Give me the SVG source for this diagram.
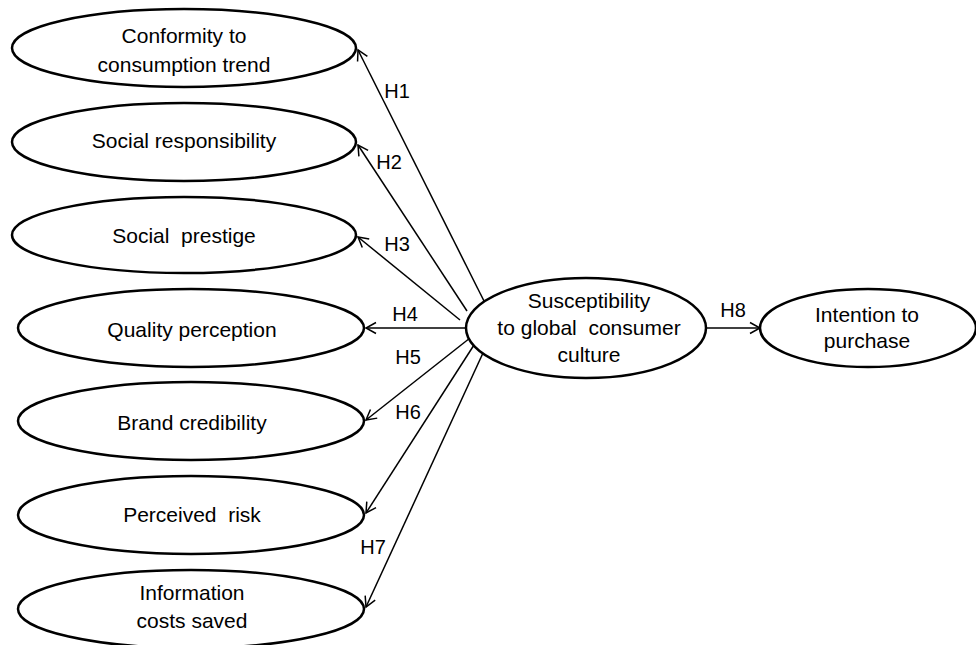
<svg xmlns="http://www.w3.org/2000/svg" width="976" height="645" viewBox="0 0 976 645">
<style>
.n ellipse{fill:#fff;stroke:#000;stroke-width:2.5}
.t{font-family:"Liberation Sans",Arial,sans-serif;font-size:21px;fill:#000;text-anchor:middle}
.l{font-family:"Liberation Sans",Arial,sans-serif;font-size:20px;fill:#000;text-anchor:middle}
#edges line{stroke:#000;stroke-width:1.5;marker-end:url(#arr)}
</style>
<defs>
<marker id="arr" markerUnits="userSpaceOnUse" markerWidth="14" markerHeight="14" refX="11" refY="6" orient="auto" viewBox="0 0 14 12">
<path d="M1,0.5 L11,6 L1,11.5" fill="none" stroke="#000" stroke-width="1.5"/>
</marker>
</defs>
<rect width="976" height="645" fill="#fff"/>
<g id="edges">
<line x1="484" y1="301" x2="358" y2="50"/>
<line x1="467" y1="311" x2="358" y2="145"/>
<line x1="460" y1="320" x2="358" y2="237"/>
<line x1="466" y1="328" x2="366" y2="328"/>
<line x1="470" y1="338" x2="366" y2="420"/>
<line x1="474" y1="345" x2="366" y2="513"/>
<line x1="483" y1="353" x2="366" y2="607"/>
<line x1="706" y1="328" x2="760" y2="328"/>
</g>
<g id="labels">
<text class="l" x="397" y="98">H1</text>
<text class="l" x="389" y="169">H2</text>
<text class="l" x="397" y="251">H3</text>
<text class="l" x="405" y="321">H4</text>
<text class="l" x="408" y="364">H5</text>
<text class="l" x="408" y="419">H6</text>
<text class="l" x="373" y="554">H7</text>
<text class="l" x="733" y="317">H8</text>
</g>
<g id="n1" class="n"><ellipse cx="184" cy="48" rx="172" ry="39"/><text class="t" x="184" y="43">Conformity to</text><text class="t" x="184" y="72">consumption trend</text></g>
<g id="n2" class="n"><ellipse cx="184" cy="142" rx="172" ry="39"/><text class="t" x="184" y="148">Social responsibility</text></g>
<g id="n3" class="n"><ellipse cx="184" cy="235" rx="172" ry="38"/><text class="t" x="184" y="243" xml:space="preserve">Social  prestige</text></g>
<g id="n4" class="n"><ellipse cx="191" cy="328" rx="173" ry="39"/><text class="t" x="192" y="337">Quality perception</text></g>
<g id="n5" class="n"><ellipse cx="191" cy="421" rx="173" ry="39"/><text class="t" x="192" y="430">Brand credibility</text></g>
<g id="n6" class="n"><ellipse cx="191" cy="515" rx="173" ry="39"/><text class="t" x="192" y="522" xml:space="preserve">Perceived  risk</text></g>
<g id="n7" class="n"><ellipse cx="191" cy="609" rx="173" ry="39"/><text class="t" x="192" y="600">Information</text><text class="t" x="192" y="628">costs saved</text></g>
<g id="n8" class="n"><ellipse cx="586" cy="328" rx="120" ry="50"/><text class="t" x="589" y="308">Susceptibility</text><text class="t" x="589" y="335" xml:space="preserve">to global  consumer</text><text class="t" x="589" y="362">culture</text></g>
<g id="n9" class="n"><ellipse cx="868" cy="328" rx="108" ry="39"/><text class="t" x="867" y="322">Intention to</text><text class="t" x="867" y="348">purchase</text></g>
</svg>
